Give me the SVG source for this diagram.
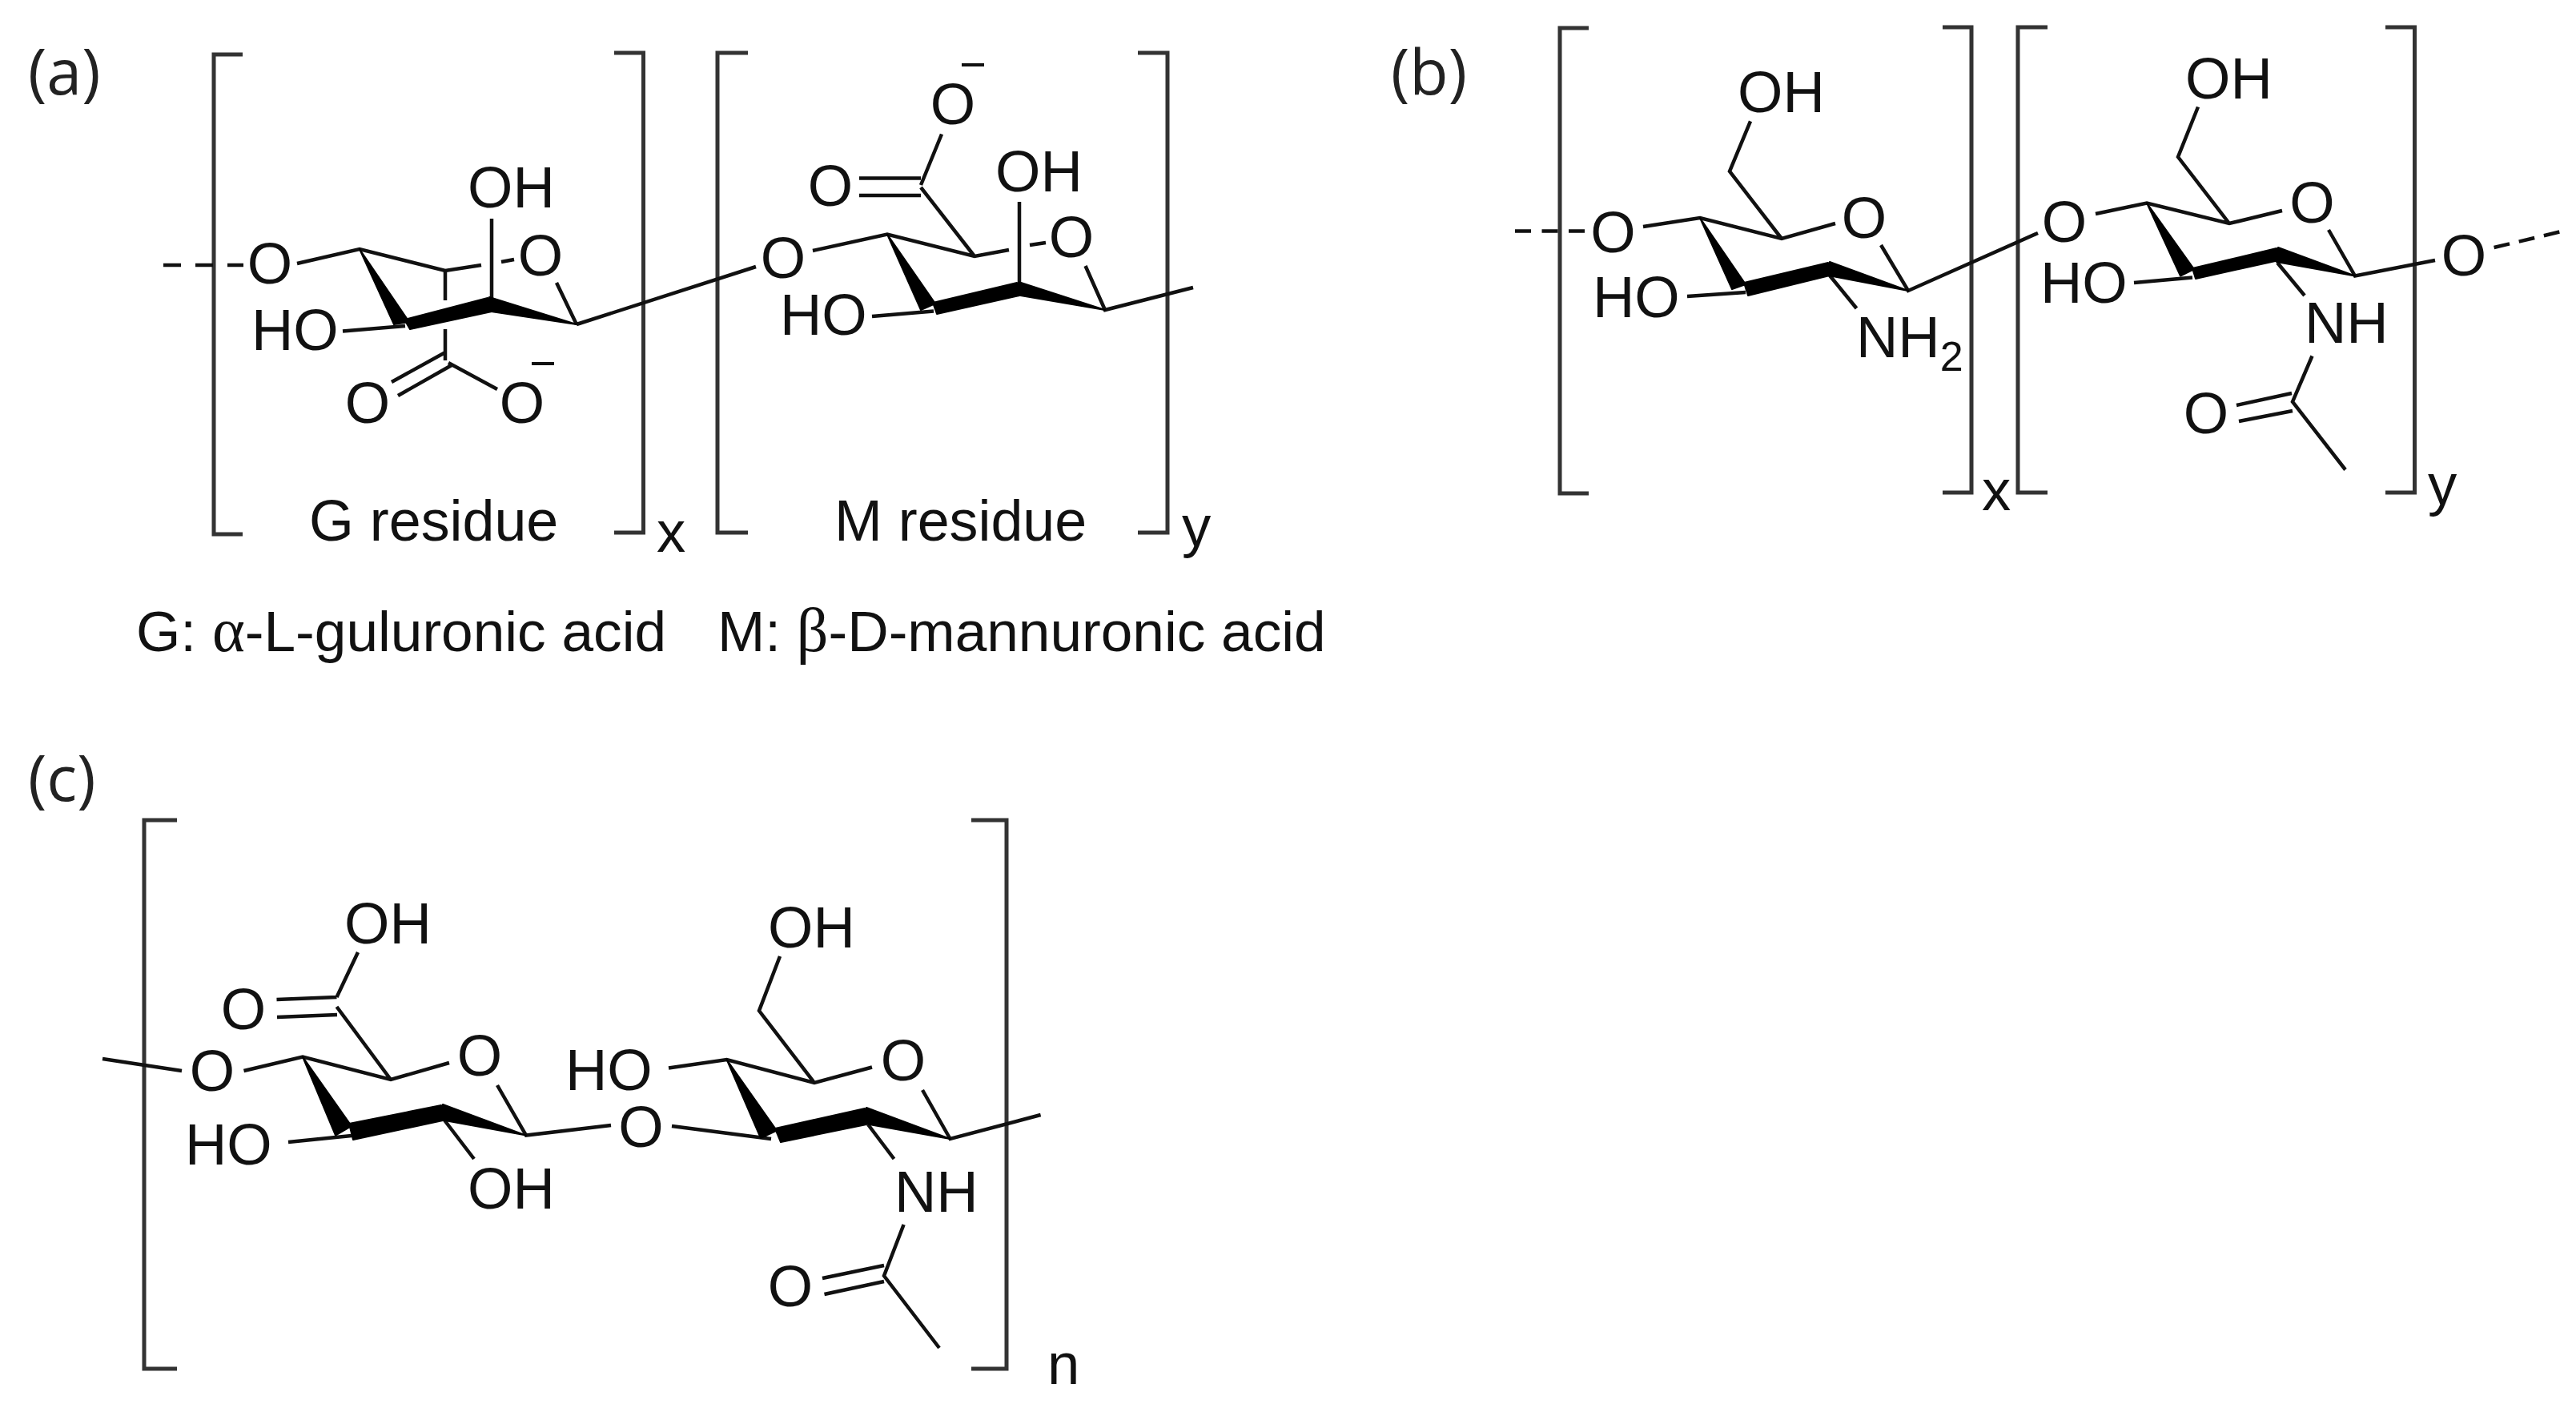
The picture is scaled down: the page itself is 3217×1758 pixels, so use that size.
<svg xmlns="http://www.w3.org/2000/svg" width="3217" height="1758" viewBox="0 0 3217 1758">
<style>
text{font-family:"Liberation Sans",Arial,sans-serif;font-size:72.500px;fill:#111}
.c{text-anchor:middle}
.p{font-family:"Open Sans","Liberation Sans",sans-serif;font-size:79px;fill:#222}
.g{font-family:"Liberation Serif",serif;font-size:78px}
.s{font-size:52px}
text.n{font-size:71.200px}
text.r{font-size:71.800px}
.b{fill:none;stroke:#111;stroke-width:4.5}
.k{fill:none;stroke:#333;stroke-width:5}
.w{fill:#000;stroke:#000;stroke-width:2;stroke-linejoin:round}
</style>
<rect width="3217" height="1758" fill="#fff"/>
<g id="brackets">
<path class="k" d="M303 68H267V667H303"/>
<path class="k" d="M767 66H803.500V665H767"/>
<path class="k" d="M934 66H896V665H934"/>
<path class="k" d="M1421 66H1458V665H1421"/>
<path class="k" d="M1984 35H1948V616H1984"/>
<path class="k" d="M2426 34H2462V615H2426"/>
<path class="k" d="M2557 34H2520V615H2557"/>
<path class="k" d="M2979 34H3015.500V615H2979"/>
<path class="k" d="M221 1024H180V1709H221"/>
<path class="k" d="M1213 1024H1257V1709H1213"/>
</g>
<g id="connectors">
<path class="b" d="M204 331H304" stroke-dasharray="22 18"/>
<path class="b" d="M371 329L449 311L556 338L601 331M626 327L642 324M695 353L720 405M614 273V373M556 338V375M556 411V450M428 413.500L506 407M489 477L556 440M497 494L564 456M560 453L621 486M720 405L944 333"/>
<path class="b" d="M1015 313L1108 292.500L1217 320L1260 312M1286 306L1306 303M1355.500 332L1380 387L1490 359M1273 252V352M1089 395L1166 388.500M1217 320L1150 234M1073 222.600H1150M1073 244H1150M1150 231L1176 167.500"/>
<path class="b" d="M1892 288.600H1980" stroke-dasharray="20 13.500"/>
<path class="b" d="M2052 283L2123 272L2225 298L2292 279M2349 306L2383 363L2545 291M2225 298L2160 214L2186 151.400M2107 370L2180 365M2285 344L2318.500 385"/>
<path class="b" d="M2617 267L2681 253.500L2784 279L2850 263M2908 287L2941 344.500L3041 325M2784 279L2720 196L2745 133.500M2665 353L2738 346.500M2844 328L2878 369M2887.500 444.500L2863 501.600L2929 586.500M2793 506L2862 491M2796 526L2863 513"/>
<path class="b" d="M3114.600 309L3197 289.400" stroke-dasharray="20 12"/>
<path class="b" d="M128 1322L227 1337M304.500 1337L378 1319.500L488 1348L561 1327M621 1355L657 1417.600L763 1405M488 1348L420.500 1257M420.500 1245L447 1189M345.500 1248L420.500 1245M346 1270L421 1267M360 1426L439 1418M553 1396L592 1447"/>
<path class="b" d="M839 1406L963 1422M835 1333.500L907.600 1323L1017 1352L1089 1332.500M1152 1361L1186.600 1422L1299.600 1392M1017 1352L948 1262L974 1194M1084 1404L1116.500 1447M1128.600 1529L1104 1593L1173 1683M1027 1596L1104 1580M1029.500 1616L1104 1600"/>
</g>
<g id="wedges">
<polygon class="w" points="449,311 492,405 511,402"/><polygon class="w" points="505,399 512,411 614,389 609,372"/><polygon class="w" points="611,371 720,405 607,388"/>
<polygon class="w" points="1108,292.500 1150,387 1168,379"/><polygon class="w" points="1165,378 1170,392 1273,369 1270,353"/><polygon class="w" points="1272,352 1380,387 1268,368"/>
<polygon class="w" points="2123,272 2163,361 2180,355"/><polygon class="w" points="2178,353 2183,369 2285,344 2283,328"/><polygon class="w" points="2285,327 2383,363 2283,344"/>
<polygon class="w" points="2681,253.500 2723,344.500 2740,336"/><polygon class="w" points="2738,335 2742,348 2846,325 2843,310"/><polygon class="w" points="2845,309 2941,344.500 2843,327"/>
<polygon class="w" points="378,1319.500 419,1417.600 439,1406"/><polygon class="w" points="436,1403 441,1423 553,1399 551,1380"/><polygon class="w" points="553,1379 657,1417.600 550,1398"/>
<polygon class="w" points="907.600,1323 950,1421 970,1411.500"/><polygon class="w" points="968,1409 975,1426 1082,1404 1080,1384"/><polygon class="w" points="1082,1383 1186.600,1422 1080,1403"/>
</g>
<g id="panel-a">
<g id="a-label"><text class="p" x="35" y="118">(a)</text></g>
<g id="a-o1"><text class="c" x="337" y="354">O</text></g>
<g id="a-oh1"><text x="584" y="259">OH</text></g>
<g id="a-o2"><text class="c" x="675" y="344">O</text></g>
<g id="a-ho1"><text x="314" y="437">HO</text></g>
<g id="a-o3"><text class="c" x="459" y="528">O</text></g>
<g id="a-o4"><text class="c" x="652" y="528">O</text></g>
<g id="a-m1"><rect x="664" y="452" width="28" height="4" fill="#111"/></g>
<g id="a-g"><text class="r" x="386" y="675">G residue</text></g>
<g id="a-x"><text x="820" y="689">x</text></g>
<g id="a-o5"><text class="c" x="978" y="347">O</text></g>
<g id="a-o6"><text class="c" x="1037" y="257">O</text></g>
<g id="a-o7"><text class="c" x="1190" y="155">O</text></g>
<g id="a-m2"><rect x="1201" y="79" width="28" height="4" fill="#111"/></g>
<g id="a-oh2"><text x="1243" y="239">OH</text></g>
<g id="a-o8"><text class="c" x="1338" y="321">O</text></g>
<g id="a-ho2"><text x="974" y="418">HO</text></g>
<g id="a-mr"><text class="r" x="1042" y="675">M residue</text></g>
<g id="a-y"><text x="1476" y="682">y</text></g>
<g id="a-gname"><text class="n" x="170" y="813">G: <tspan class="g">α</tspan>-L-guluronic acid</text></g>
<g id="a-mname"><text class="n" x="896" y="813">M: <tspan class="g">β</tspan>-D-mannuronic acid</text></g>
</g>
<g id="panel-b">
<g id="b-label"><text class="p" x="1737" y="118">(b)</text></g>
<g id="b-o1"><text class="c" x="2014.500" y="315">O</text></g>
<g id="b-oh1"><text x="2170" y="140">OH</text></g>
<g id="b-o2"><text class="c" x="2328" y="297">O</text></g>
<g id="b-ho1"><text x="1989" y="396">HO</text></g>
<g id="b-nh2"><text x="2318" y="446">NH<tspan class="s" dy="17">2</tspan></text></g>
<g id="b-x"><text x="2475" y="637">x</text></g>
<g id="b-o3"><text class="c" x="2578" y="302">O</text></g>
<g id="b-oh2"><text x="2729" y="123">OH</text></g>
<g id="b-o4"><text class="c" x="2887.500" y="278">O</text></g>
<g id="b-ho2"><text x="2548" y="378">HO</text></g>
<g id="b-o5"><text class="c" x="3077" y="344">O</text></g>
<g id="b-nh"><text x="2878" y="428">NH</text></g>
<g id="b-o6"><text class="c" x="2755" y="541">O</text></g>
<g id="b-y"><text x="3032" y="630">y</text></g>
</g>
<g id="panel-c">
<g id="c-label"><text class="p" x="35" y="1000">(c)</text></g>
<g id="c-o1"><text class="c" x="265" y="1362">O</text></g>
<g id="c-oh1"><text x="430" y="1178">OH</text></g>
<g id="c-o2"><text class="c" x="304" y="1285">O</text></g>
<g id="c-o3"><text class="c" x="599" y="1343">O</text></g>
<g id="c-ho1"><text x="231" y="1454">HO</text></g>
<g id="c-oh2"><text x="584" y="1509">OH</text></g>
<g id="c-ho2"><text x="706" y="1361">HO</text></g>
<g id="c-o4"><text class="c" x="800.400" y="1432">O</text></g>
<g id="c-oh3"><text x="959" y="1183">OH</text></g>
<g id="c-o5"><text class="c" x="1128" y="1349">O</text></g>
<g id="c-nh"><text x="1117" y="1513">NH</text></g>
<g id="c-o6"><text class="c" x="987" y="1631">O</text></g>
<g id="c-n"><text x="1308" y="1728">n</text></g>
</g>
</svg>
